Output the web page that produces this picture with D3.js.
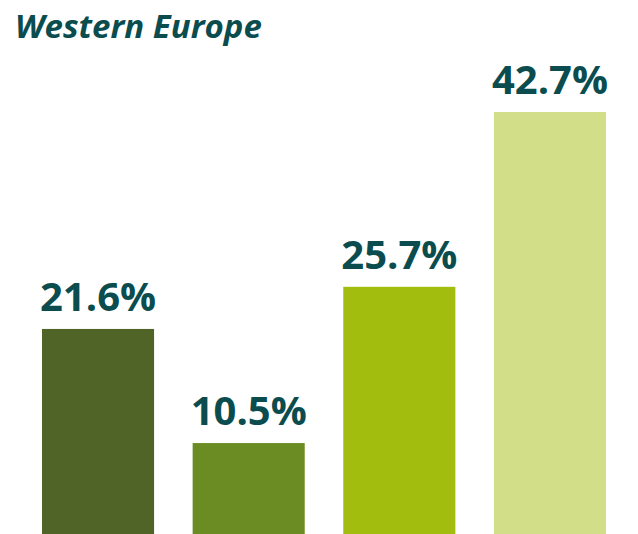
<!DOCTYPE html>
<html><head><meta charset="utf-8">
<script src="https://cdn.jsdelivr.net/npm/d3@7"></script>
<style>html,body{margin:0;padding:0;background:#fff;}svg{display:block;}</style>
</head><body>
<script>
const title = "Western Europe";
const categories = ["A", "B", "C", "D"];
const values = [21.6, 10.5, 25.7, 42.7];
const labels = ["21.6%", "10.5%", "25.7%", "42.7%"];
const colors = ["#506427", "#6b8b23", "#a2bd0d", "#d2de88"];

const W = 638, H = 534;
const svg = d3.select("body").append("svg").attr("width", W).attr("height", H);

const x = d3.scaleBand().domain(categories).range([42, 606]).paddingInner(0.256).paddingOuter(0);
const y = d3.scaleLinear().domain([0, 50]).range([551, 37]);

svg.append("text").attr("x", 15).attr("y", 38)
  .attr("font-family", "Open Sans").attr("font-weight", 700).attr("font-style", "italic")
  .attr("font-size", 33).attr("fill", "#0b4c4e").text(title);

svg.selectAll("rect.bar").data(values).join("rect").attr("class", "bar")
  .attr("x", (d, i) => x(categories[i])).attr("width", x.bandwidth())
  .attr("y", d => y(d)).attr("height", d => y(0) - y(d))
  .attr("fill", (d, i) => colors[i]);

svg.selectAll("text.lab").data(values).join("text").attr("class", "lab")
  .attr("x", (d, i) => x(categories[i]) + x.bandwidth() / 2)
  .attr("y", d => y(d) - 18)
  .attr("text-anchor", "middle")
  .attr("font-family", "Open Sans").attr("font-weight", 700)
  .attr("font-size", 40).attr("fill", "#0b4c4e")
  .text((d, i) => labels[i]);
</script>
</body></html>
